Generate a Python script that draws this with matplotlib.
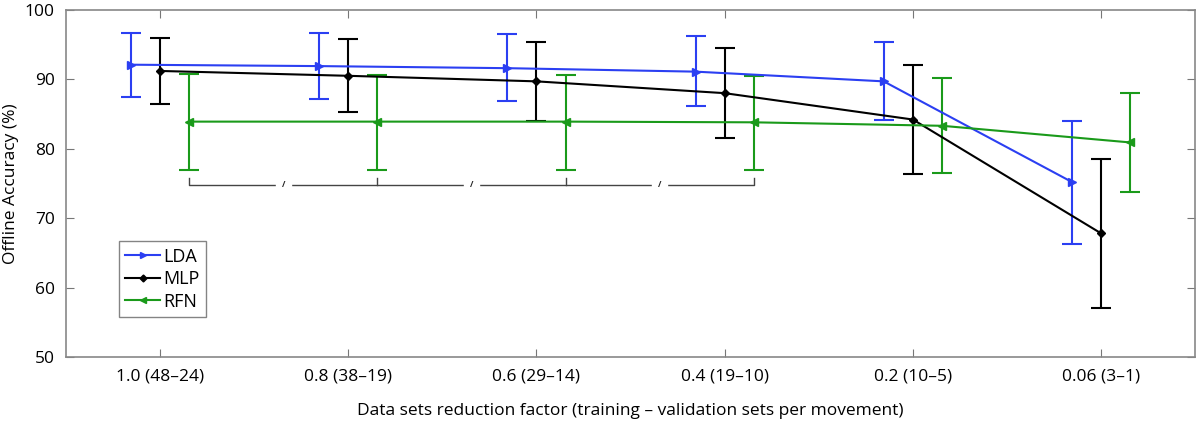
#!/usr/bin/env python3

import numpy as np
import matplotlib
matplotlib.use('Agg')
import matplotlib.pyplot as plt
from matplotlib.lines import Line2D

plt.rcParams['font.family'] = ['Open Sans', 'DejaVu Sans']

# Data
labels = ['1.0 (48\u201324)', '0.8 (38\u201319)', '0.6 (29\u201314)',
          '0.4 (19\u201310)', '0.2 (10\u20135)', '0.06 (3\u20131)']

lda = [92.1, 91.9, 91.6, 91.1, 89.7, 75.2]
lda_hi = [96.7, 96.6, 96.5, 96.2, 95.3, 84.0]
lda_lo = [87.5, 87.2, 86.8, 86.1, 84.1, 66.3]

mlp = [91.2, 90.5, 89.7, 88.0, 84.2, 67.8]
mlp_hi = [95.9, 95.8, 95.4, 94.5, 92.0, 78.5]
mlp_lo = [86.4, 85.3, 84.0, 81.5, 76.4, 57.1]

rfn = [83.9, 83.9, 83.9, 83.8, 83.3, 80.9]
rfn_hi = [90.7, 90.6, 90.6, 90.5, 90.2, 88.0]
rfn_lo = [77.0, 77.0, 77.0, 77.0, 76.5, 73.8]

x = np.arange(1, len(labels) + 1)
off = 0.155

fig = plt.figure(figsize=(12, 4.29), dpi=100)
ax = fig.add_axes([0.055, 0.168, 0.941, 0.809])

series = [
    ('LDA', x - off, lda, lda_lo, lda_hi, '#2b3ff2', '>', 6),
    ('MLP', x, mlp, mlp_lo, mlp_hi, 'black', 'D', 4.5),
    ('RFN', x + off, rfn, rfn_lo, rfn_hi, '#1a9a1a', '<', 6),
]
handles = []
for name, xs, y, lo, hi, c, m, ms in series:
    y = np.array(y)
    err = [y - np.array(lo), np.array(hi) - y]
    ax.errorbar(xs, y, yerr=err, color=c, marker=m, markersize=ms,
                lw=1.5, elinewidth=1.5, capsize=7, capthick=1.5)
    handles.append(Line2D([], [], color=c, marker=m, markersize=ms - 1,
                          lw=1.5, label=name))

# significance bracket under the RFN bars
bx = x[:4] + off
by = 74.8
ax.plot([bx[0], bx[0], bx[-1], bx[-1]], [by + 1.0, by, by, by + 1.0],
        color='#444444', lw=1)
for xi in bx[1:3]:
    ax.plot([xi, xi], [by, by + 1.0], color='#444444', lw=1)
for a, b in zip(bx[:-1], bx[1:]):
    ax.text((a + b) / 2, by, '/', ha='center', va='center', fontsize=6,
            fontweight='bold', backgroundcolor='white', color='#222222')

ax.set_xlim(0.5, 6.5)
ax.set_ylim(50, 100)
ax.set_xticks(x)
ax.set_xticklabels(labels)
ax.set_yticks(np.arange(50, 101, 10))
ax.tick_params(direction='in', top=True, right=True, length=6,
               color='#777777', labelsize=12.5, pad=8)
for s in ax.spines.values():
    s.set_color('#888888')
    s.set_linewidth(1.2)

ax.set_ylabel('Offline Accuracy (%)', fontsize=12.5)
ax.set_xlabel('Data sets reduction factor (training \u2013 validation sets per movement)',
              fontsize=12.5, labelpad=14)

leg = ax.legend(handles=handles, loc='lower left', bbox_to_anchor=(0.047, 0.115),
                fontsize=13, fancybox=False, edgecolor='#666666',
                handlelength=1.9, borderpad=0.35, labelspacing=0.25,
                handletextpad=0.2, borderaxespad=0)
leg.get_frame().set_linewidth(1)

fig.savefig('out.png', dpi=100)
